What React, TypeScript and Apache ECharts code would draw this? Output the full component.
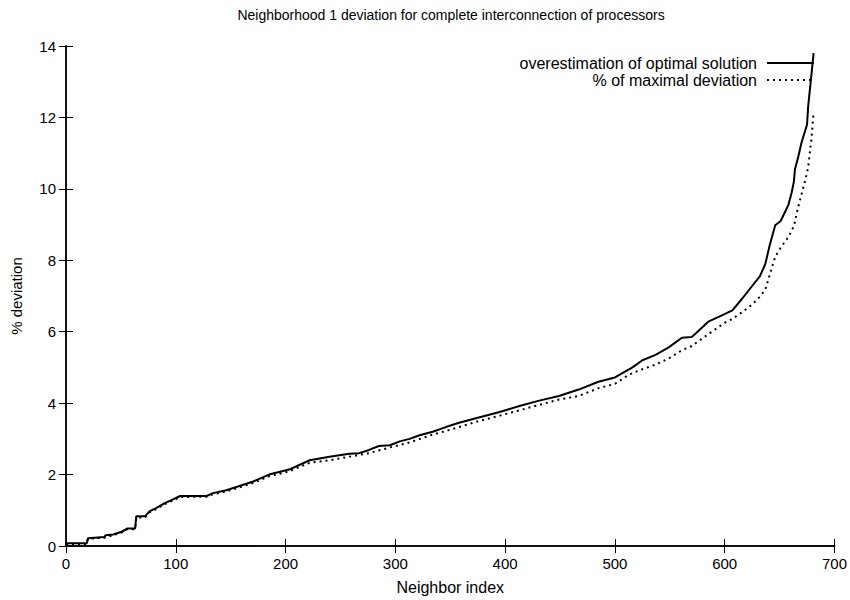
import React, { useEffect, useRef } from "react";
import * as echarts from "echarts";

const titleText = "Neighborhood 1 deviation for complete interconnection of processors";
const xName = "Neighbor index";
const yName = "% deviation";
const seriesNames = ["overestimation of optimal solution", "% of maximal deviation"];

const xTicks = [0, 100, 200, 300, 400, 500, 600, 700];
const yTicks = [0, 2, 4, 6, 8, 10, 12, 14];

const solidX = [0, 19, 20, 35, 36, 43, 50, 56, 63, 64, 72, 76, 82, 90, 97, 104, 128, 134, 146, 158, 170, 185, 204, 222, 240, 258, 267, 276, 285, 295, 304, 313, 322, 334, 346, 358, 376, 395, 413, 431, 449, 467, 485, 500, 516, 525, 537, 549, 561, 570, 576, 585, 595, 607, 616, 625, 632, 637, 641, 646, 651, 658, 661, 663, 664, 667, 670, 675, 676, 679, 681];
const solidY = [0.08, 0.08, 0.22, 0.25, 0.3, 0.32, 0.39, 0.49, 0.49, 0.83, 0.83, 0.97, 1.06, 1.2, 1.3, 1.4, 1.4, 1.48, 1.56, 1.68, 1.8, 2.0, 2.15, 2.4, 2.5, 2.58, 2.6, 2.69, 2.8, 2.82, 2.93, 3.0, 3.1, 3.2, 3.33, 3.45, 3.6, 3.75, 3.92, 4.07, 4.2, 4.38, 4.6, 4.72, 5.0, 5.2, 5.35, 5.56, 5.83, 5.85, 6.02, 6.28, 6.42, 6.6, 6.93, 7.28, 7.55, 7.9, 8.42, 8.98, 9.1, 9.55, 9.9, 10.2, 10.55, 10.9, 11.3, 11.8, 12.3, 13.2, 13.8];

const dottedX = [0, 19, 20, 35, 43, 50, 56, 63, 64, 72, 76, 82, 90, 97, 104, 128, 134, 146, 158, 170, 185, 204, 222, 240, 258, 276, 295, 313, 334, 346, 358, 376, 395, 413, 431, 449, 467, 485, 500, 513, 525, 537, 549, 561, 570, 585, 600, 607, 616, 625, 632, 637, 641, 646, 652, 658, 663, 667, 670, 673, 676, 679, 681];
const dottedY = [0.05, 0.05, 0.2, 0.23, 0.3, 0.37, 0.47, 0.47, 0.8, 0.8, 0.94, 1.03, 1.17, 1.27, 1.37, 1.38, 1.45, 1.53, 1.64, 1.76, 1.95, 2.1, 2.33, 2.4, 2.5, 2.6, 2.76, 2.9, 3.12, 3.22, 3.33, 3.5, 3.65, 3.8, 3.95, 4.1, 4.2, 4.42, 4.54, 4.8, 4.95, 5.08, 5.25, 5.48, 5.6, 5.93, 6.25, 6.36, 6.55, 6.76, 6.98, 7.18, 7.6, 8.1, 8.4, 8.65, 8.95, 9.5, 9.85, 10.2, 10.6, 11.4, 12.15];

const FONT = "'Liberation Sans', Arial, Helvetica, sans-serif";

export default function App() {
  const ref = useRef<HTMLDivElement>(null);
  useEffect(() => {
    if (!ref.current) return;
    const chart = echarts.init(ref.current, null, { renderer: "svg" });
    const solidData = solidX.map((x, i) => [x, solidY[i]]);
    const dottedData = dottedX.map((x, i) => [x, dottedY[i]]);
    const axisLine = { show: true, lineStyle: { color: "#000", width: 1.5 } };
    const axisTick = { show: true, inside: true, length: 7, lineStyle: { color: "#000", width: 1 } };
    const label = { color: "#000", fontSize: 15, fontFamily: FONT };
    chart.setOption({
      animation: false,
      backgroundColor: "#fff",
      grid: { left: 66, right: 14, top: 46, bottom: 50, containLabel: false },
      xAxis: [
        {
          type: "value", min: xTicks[0], max: xTicks[xTicks.length - 1], interval: 100,
          position: "bottom",
          name: xName, nameLocation: "middle", nameGap: 33,
          nameTextStyle: { color: "#000", fontSize: 16, fontFamily: FONT },
          axisLine, axisTick, splitLine: { show: false },
          axisLabel: { ...label, margin: 10 },
        },
        {
          type: "value", min: xTicks[0], max: xTicks[xTicks.length - 1], interval: 100,
          position: "top", axisLine, axisTick, splitLine: { show: false },
          axisLabel: { show: false },
        },
      ],
      yAxis: [
        {
          type: "value", min: yTicks[0], max: yTicks[yTicks.length - 1], interval: 2,
          position: "left",
          name: yName, nameLocation: "middle", nameGap: 42, nameRotate: 90,
          nameTextStyle: { color: "#000", fontSize: 15, fontFamily: FONT },
          axisLine, axisTick, splitLine: { show: false },
          axisLabel: { ...label, margin: 10 },
        },
        {
          type: "value", min: yTicks[0], max: yTicks[yTicks.length - 1], interval: 2,
          position: "right", axisLine, axisTick, splitLine: { show: false },
          axisLabel: { show: false },
        },
      ],
      series: [
        {
          name: seriesNames[0], type: "line", data: solidData, showSymbol: false, symbol: "none",
          lineStyle: { color: "#000", width: 2 }, z: 3,
        },
        {
          name: seriesNames[1], type: "line", data: dottedData, showSymbol: false, symbol: "none",
          lineStyle: { color: "#000", width: 2, type: [2, 4] }, z: 2,
        },
      ],
      graphic: [
        {
          type: "text", x: 451, y: 15,
          style: { text: titleText, align: "center", verticalAlign: "middle", textAlign: "center", textVerticalAlign: "middle", fontSize: 14, fontFamily: FONT, fill: "#000" },
        },
        {
          type: "text", x: 757, y: 63,
          style: { text: seriesNames[0], align: "right", verticalAlign: "middle", textAlign: "right", textVerticalAlign: "middle", fontSize: 16, fontFamily: FONT, fill: "#000" },
        },
        {
          type: "text", x: 757, y: 80,
          style: { text: seriesNames[1], align: "right", verticalAlign: "middle", textAlign: "right", textVerticalAlign: "middle", fontSize: 16, fontFamily: FONT, fill: "#000" },
        },
        {
          type: "line", shape: { x1: 767, y1: 63, x2: 814, y2: 63 },
          style: { stroke: "#000", lineWidth: 2 },
        },
        {
          type: "line", shape: { x1: 767, y1: 80, x2: 814, y2: 80 },
          style: { stroke: "#000", lineWidth: 2, lineDash: [2, 4] },
        },
      ],
    });
    return () => chart.dispose();
  }, []);
  return <div ref={ref} style={{ width: 850, height: 600, position: "absolute", left: 0, top: 0 }} />;
}
